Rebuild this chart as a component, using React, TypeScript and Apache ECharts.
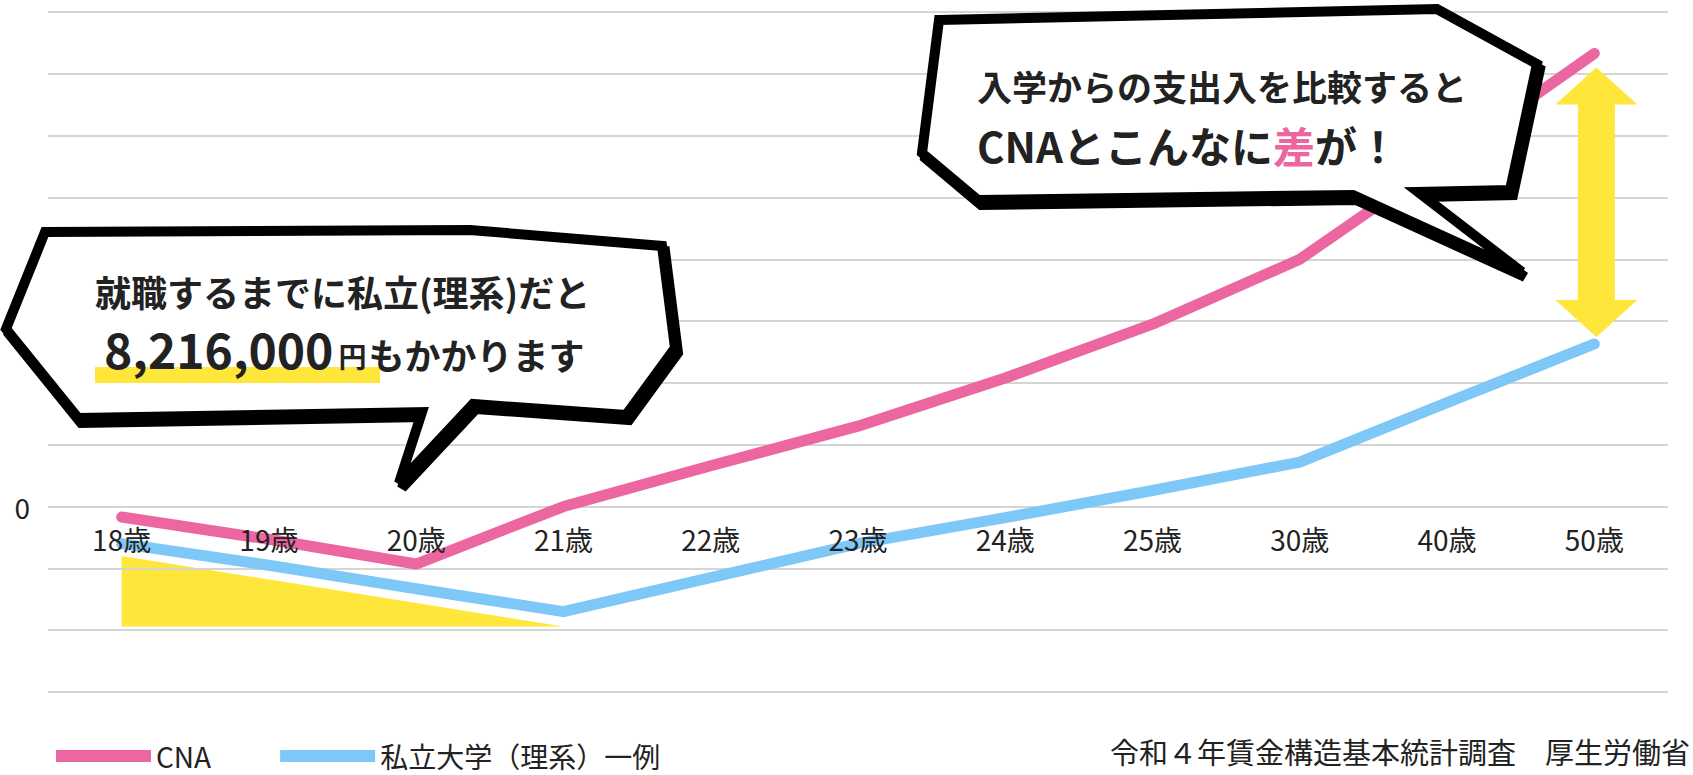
import React, { useEffect, useRef } from "react";
import * as echarts from "echarts";

// ---------- data ----------
const categories = ["18歳", "19歳", "20歳", "21歳", "22歳", "23歳", "24歳", "25歳", "30歳", "40歳", "50歳"];
const cnaValues = [-0.17, -0.53, -0.93, 0.0, 0.66, 1.3, 2.08, 2.95, 4.0, 5.65, 7.33];
const privateValues = [-0.6, -0.95, -1.33, -1.7, -1.15, -0.6, -0.18, 0.26, 0.72, 1.68, 2.63];
const seriesNames = ["CNA", "私立大学（理系）一例"];
const burdenTriangle: [number, number][] = [[0, -0.8], [0, -1.94], [3, -1.94]];
const yMin = -3;
const yMax = 8;
const yInterval = 1;

const calloutLeft = ["就職するまでに私立(理系)だと", "8,216,000", "円", "もかかります"];
const calloutRight = ["入学からの支出入を比較すると", "CNAとこんなに", "差", "が！"];
const sourceNote = "令和４年賃金構造基本統計調査　厚生労働省";

// ---------- layout & styles ----------
const W = 1693;
const H = 775;
const GRID_TOP = 12;
const GRID_BOTTOM = 83;
const PINK = "#EC66A2";
const BLUE = "#7EC8F8";
const YELLOW = "#FFE63B";
const GRIDC = "#D5D5D5";
const INK = "#222222";
const FONT = "'Noto Sans CJK JP', 'Noto Sans', sans-serif";

const bubbleLeftPts = [[45, 232], [470, 230], [662, 246], [675, 348], [626, 415], [473, 404], [399, 483], [422, 412], [78, 418], [6, 329]];
const bubbleRightPts = [[939, 20], [1437, 9], [1537, 64], [1510, 190], [1418, 192], [1522, 272], [1353, 195], [978, 200], [922, 153]];

function shift(pts: number[][], dx: number, dy: number) {
  return pts.map(([x, y]) => [x + dx, y + dy]);
}

function buildGraphics(ax: number, topY: number, botY: number) {
  const cx = ax + 2;
  const t = topY + 14;
  const b = botY - 7;
  const head = 37;
  const hw = 41;
  const sw = 18.5;
  const arrow = [
    [cx, t], [cx + hw, t + head], [cx + sw, t + head], [cx + sw, b - head], [cx + hw, b - head],
    [cx, b], [cx - hw, b - head], [cx - sw, b - head], [cx - sw, t + head], [cx - hw, t + head],
  ];
  return [
    { type: "polygon", z: 50, shape: { points: arrow }, style: { fill: YELLOW } },
    // left bubble
    { type: "polygon", z: 100, shape: { points: shift(bubbleLeftPts, 3, 5) }, style: { fill: "#000", stroke: "#000", lineWidth: 10, lineJoin: "miter" } },
    { type: "polygon", z: 101, shape: { points: bubbleLeftPts }, style: { fill: "#fff", stroke: "#000", lineWidth: 10, lineJoin: "miter" } },
    { type: "rect", z: 102, shape: { x: 95, y: 367, width: 285, height: 16 }, style: { fill: YELLOW } },
    {
      type: "text", z: 103, x: 95, y: 291,
      style: { text: calloutLeft[0], fontSize: 36, fontWeight: "bold", fontFamily: FONT, fill: INK, align: "left", verticalAlign: "middle" },
    },
    {
      type: "text", z: 103, x: 104, y: 372,
      style: {
        text: `{num|${calloutLeft[1]}}{yen|${calloutLeft[2]}}{rest|${calloutLeft[3]}}`,
        align: "left", verticalAlign: "bottom", fill: INK, fontFamily: FONT,
        rich: {
          num: { fontSize: 48, fontWeight: "bold", fontFamily: FONT, fill: INK, verticalAlign: "bottom", lineHeight: 50 },
          yen: { fontSize: 28, fontWeight: "bold", fontFamily: FONT, fill: INK, verticalAlign: "bottom", padding: [0, 2, 2, 5], lineHeight: 30 },
          rest: { fontSize: 36, fontWeight: "bold", fontFamily: FONT, fill: INK, verticalAlign: "bottom", lineHeight: 38 },
        },
      },
    },
    // right bubble
    { type: "polygon", z: 100, shape: { points: shift(bubbleRightPts, 3, 5) }, style: { fill: "#000", stroke: "#000", lineWidth: 10, lineJoin: "miter" } },
    { type: "polygon", z: 101, shape: { points: bubbleRightPts }, style: { fill: "#fff", stroke: "#000", lineWidth: 10, lineJoin: "miter" } },
    {
      type: "text", z: 103, x: 977, y: 85,
      style: { text: calloutRight[0], fontSize: 35, fontWeight: "bold", fontFamily: FONT, fill: INK, align: "left", verticalAlign: "middle" },
    },
    {
      type: "text", z: 103, x: 977, y: 144,
      style: {
        text: `{b|${calloutRight[1]}}{p|${calloutRight[2]}}{b|${calloutRight[3]}}`,
        align: "left", verticalAlign: "middle", fontFamily: FONT,
        rich: {
          b: { fontSize: 42, fontWeight: "bold", fontFamily: FONT, fill: INK },
          p: { fontSize: 42, fontWeight: "bold", fontFamily: FONT, fill: PINK },
        },
      },
    },
    {
      type: "text", z: 103, right: 3, top: 736,
      style: { text: sourceNote, fontSize: 29, fontFamily: FONT, fill: INK },
    },
  ];
}

export default function App() {
  const ref = useRef<HTMLDivElement>(null);
  useEffect(() => {
    const el = ref.current!;
    const chart = echarts.init(el, null, { renderer: "svg", width: W, height: H });
    const gridHeight = H - GRID_TOP - GRID_BOTTOM;
    const zeroOffset = -gridHeight * (0 - yMin) / (yMax - yMin);
    const option: any = {
      animation: false,
      backgroundColor: "#ffffff",
      textStyle: { fontFamily: FONT },
      grid: { left: 48, right: 25, top: GRID_TOP, bottom: GRID_BOTTOM, outerBoundsMode: "none", containLabel: false },
      legend: {
        data: seriesNames,
        left: 51,
        top: 737,
        icon: "rect",
        itemWidth: 95,
        itemHeight: 12,
        itemGap: 69,
        textStyle: { fontSize: 28, color: INK, fontFamily: FONT },
      },
      xAxis: {
        type: "category",
        data: categories,
        boundaryGap: true,
        position: "bottom",
        offset: zeroOffset,
        z: 10,
        axisLine: { show: false, onZero: false },
        axisTick: { show: false },
        splitLine: { show: false },
        axisLabel: { interval: 0, fontSize: 28, color: INK, margin: 18, fontFamily: FONT },
      },
      yAxis: {
        type: "value",
        min: yMin,
        max: yMax,
        interval: yInterval,
        axisLine: { show: false },
        axisTick: { show: false },
        splitLine: { lineStyle: { color: GRIDC, width: 2 } },
        axisLabel: {
          formatter: (v: number) => (v === 0 ? "0" : ""),
          fontSize: 28,
          color: INK,
          margin: 18,
          fontFamily: FONT,
        },
      },
      series: [
        {
          type: "custom",
          name: "burden",
          z: -1,
          silent: true,
          data: burdenTriangle,
          encode: { x: 0, y: 1 },
          renderItem: (params: any, api: any) => {
            if (params.dataIndex !== 0) return null;
            const pts = burdenTriangle.map((p) => api.coord(p));
            return { type: "polygon", shape: { points: pts }, style: { fill: YELLOW } };
          },
        },
        {
          type: "line",
          name: seriesNames[1],
          data: privateValues,
          symbol: "none",
          showSymbol: false,
          z: 3,
          itemStyle: { color: BLUE },
          lineStyle: { color: BLUE, width: 11, cap: "round", join: "round" },
        },
        {
          type: "line",
          name: seriesNames[0],
          data: cnaValues,
          symbol: "none",
          showSymbol: false,
          z: 4,
          itemStyle: { color: PINK },
          lineStyle: { color: PINK, width: 11, cap: "round", join: "round" },
        },
      ],
    };
    chart.setOption(option);
    const pTop = chart.convertToPixel({ gridIndex: 0 } as any, [10, cnaValues[10]]) as number[];
    const pBot = chart.convertToPixel({ gridIndex: 0 } as any, [10, privateValues[10]]) as number[];
    chart.setOption({ graphic: buildGraphics(pTop[0], pTop[1], pBot[1]) });
    return () => chart.dispose();
  }, []);
  return (
    <div
      ref={ref}
      style={{ position: "absolute", left: 0, top: 0, width: W, height: H, background: "#fff" }}
    />
  );
}
